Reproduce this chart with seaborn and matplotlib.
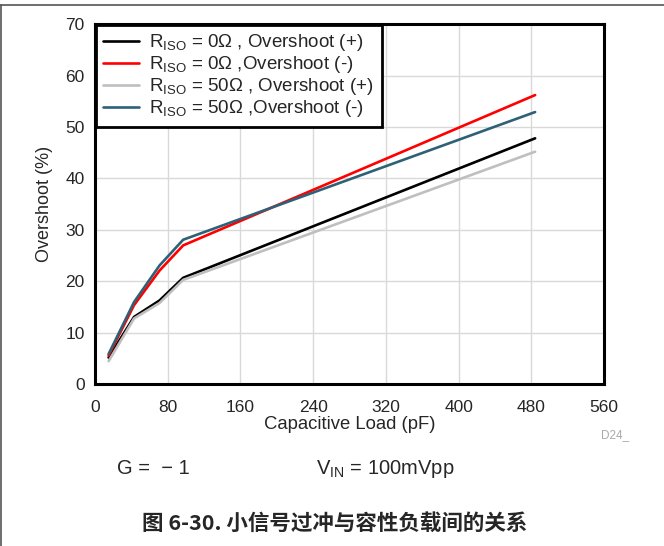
import numpy as np
import pandas as pd

import matplotlib
matplotlib.use('Agg')

import matplotlib.pyplot as plt
from matplotlib.lines import Line2D
import seaborn as sns

# Data
load_pf = [15, 43, 71, 97, 484]
r0_pos = [5.2, 13.1, 16.3, 20.7, 47.8]
r0_neg = [5.6, 15.4, 22.1, 27.0, 56.2]
r50_pos = [4.5, 12.8, 15.8, 20.3, 45.2]
r50_neg = [5.9, 16.0, 23.1, 28.1, 52.9]

labels = [r"R$_{\mathrm{ISO}}$ = 0Ω , Overshoot (+)",
          r"R$_{\mathrm{ISO}}$ = 0Ω ,Overshoot (-)",
          r"R$_{\mathrm{ISO}}$ = 50Ω , Overshoot (+)",
          r"R$_{\mathrm{ISO}}$ = 50Ω ,Overshoot (-)"]
colors = ["#000000", "#ff0000", "#bfbfbf", "#2e6178"]

x_ticks = [0, 80, 160, 240, 320, 400, 480, 560]
y_ticks = [0, 10, 20, 30, 40, 50, 60, 70]

frames = []
for lab, vals in zip(labels, [r0_pos, r0_neg, r50_pos, r50_neg]):
    frames.append(pd.DataFrame({"load": load_pf, "overshoot": vals, "series": lab}))
df = pd.concat(frames, ignore_index=True)

sns.set_style("white")
plt.rcParams['font.family'] = ['Liberation Sans', 'Noto Sans CJK SC', 'DejaVu Sans']
plt.rcParams['mathtext.fontset'] = 'custom'
plt.rcParams['mathtext.rm'] = 'Liberation Sans'
plt.rcParams['mathtext.it'] = 'Liberation Sans:italic'

fig = plt.figure(figsize=(6.64, 5.46), dpi=100)
ax = fig.add_axes([0.143, 0.296, 0.767, 0.660])

sns.lineplot(data=df, x="load", y="overshoot", hue="series", hue_order=labels,
             palette=colors, linewidth=1.9, ax=ax, sort=False)

ax.set_xlim(0, 560)
ax.set_ylim(0, 70)
ax.set_xticks(x_ticks)
ax.set_yticks(y_ticks)
ax.tick_params(labelsize=12.5, length=0)
ax.tick_params(axis="x", pad=11)
ax.tick_params(axis="y", pad=7.5)
ax.grid(True, color="#d9d9d9", linewidth=1)
for s in ax.spines.values():
    s.set_linewidth(2.2)
    s.set_color("black")
ax.set_xlabel("Capacitive Load (pF)", fontsize=13.3, labelpad=1)
ax.set_ylabel("Overshoot (%)", fontsize=13, labelpad=9)

leg = ax.legend(loc="upper left", fontsize=13.5, frameon=True, fancybox=False,
                borderaxespad=0.05, handlelength=1.9, labelspacing=0.05,
                borderpad=0.4, handletextpad=0.55)
leg.get_frame().set_edgecolor("black")
leg.get_frame().set_linewidth(2.0)
leg.get_frame().set_alpha(1)

# Annotations under the plot
fig.text(0.905, 0.197, "D24_", fontsize=8.5, color="#aaaaaa")
fig.text(0.176, 0.131, "G =  \u2212 1", fontsize=14.5)
fig.text(0.476, 0.131, r"V$_{\mathrm{IN}}$ = 100mVpp", fontsize=14.5)
fig.text(0.504, 0.042, "图 6-30. 小信号过冲与容性负载间的关系", fontsize=15.5,
         fontweight="bold", ha="center", va="center",
         family=['Noto Sans CJK SC', 'DejaVu Sans'])

# Page borders
fig.add_artist(Line2D([0, 1], [0.99, 0.99], color="#555555", linewidth=1.2, transform=fig.transFigure))
fig.add_artist(Line2D([0.001, 0.001], [0, 0.99], color="#555555", linewidth=1.2, transform=fig.transFigure))

plt.savefig("out.png", dpi=100)
plt.close()
